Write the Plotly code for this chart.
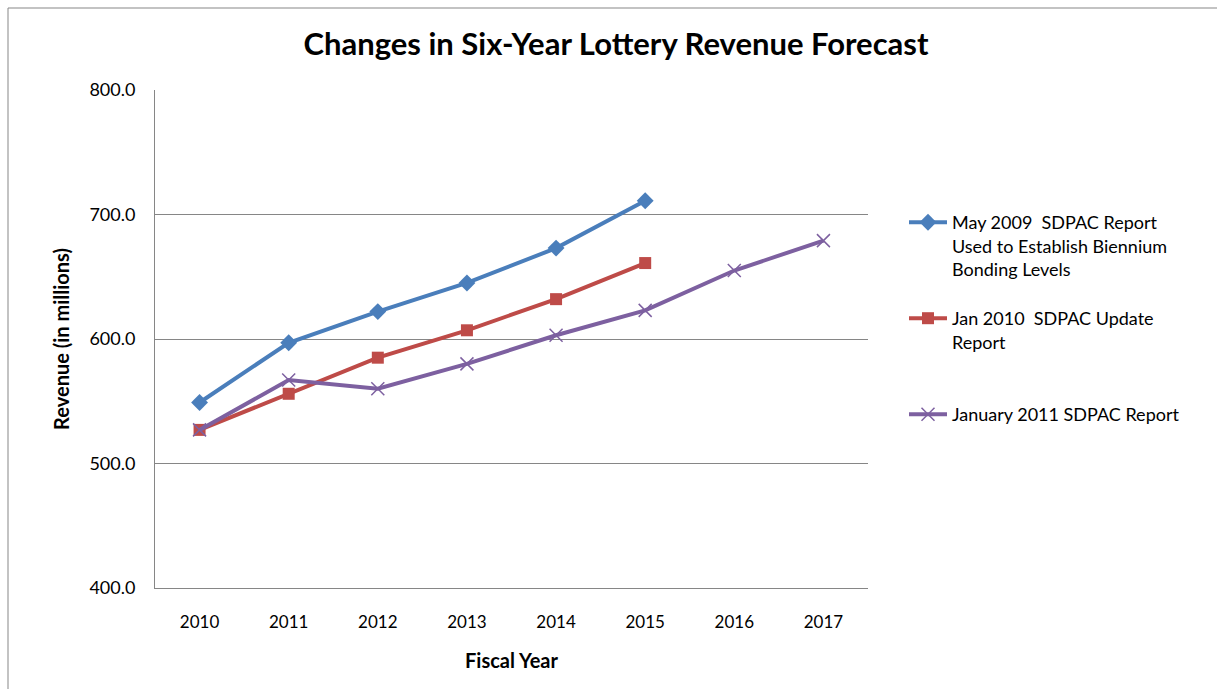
import plotly.graph_objects as go

# Fiscal years on the category axis
years = ["2010", "2011", "2012", "2013", "2014", "2015", "2016", "2017"]

# Forecast revenue (in millions) from each SDPAC report
may_2009 = [549, 597, 622, 645, 673, 711]
jan_2010 = [527, 556, 585, 607, 632, 661]
jan_2011 = [527, 567, 560, 580, 603, 623, 655, 679]

series_names = [
    "May 2009  SDPAC Report<br>Used to Establish Biennium<br>Bonding Levels",
    "Jan 2010  SDPAC Update<br>Report",
    "January 2011 SDPAC Report",
]

W, H = 1217, 689
L, R, T, B = 155, 868, 90, 588
FONT = "Lato, 'Open Sans', sans-serif"


def px_x(p):
    return (p - L) / (R - L)


def px_y(p):
    return (B - p) / (B - T)


fig = go.Figure()

fig.add_trace(go.Scatter(
    x=years[:len(may_2009)], y=may_2009, name=series_names[0], mode="lines+markers",
    line=dict(color="#4A7EBB", width=4),
    marker=dict(symbol="diamond", size=13, color="#4A7EBB"),
    legend="legend",
))
fig.add_trace(go.Scatter(
    x=years[:len(jan_2010)], y=jan_2010, name=series_names[1], mode="lines+markers",
    line=dict(color="#BE4B48", width=4),
    marker=dict(symbol="square", size=12, color="#BE4B48"),
    legend="legend2",
))
fig.add_trace(go.Scatter(
    x=years[:len(jan_2011)], y=jan_2011, name=series_names[2], mode="lines+markers",
    line=dict(color="#7D60A0", width=4),
    marker=dict(symbol="x-thin", size=13, color="#7D60A0",
                line=dict(color="#7D60A0", width=1.5)),
    legend="legend3",
))

legend_common = dict(
    xanchor="left", yanchor="top", valign="top",
    font=dict(family=FONT, size=18, color="#000000"),
    bgcolor="rgba(0,0,0,0)", borderwidth=0,
    itemwidth=38,
)

fig.update_layout(
    width=W, height=H,
    margin=dict(l=L, r=W - R, t=T, b=H - B),
    paper_bgcolor="white", plot_bgcolor="white",
    font=dict(family=FONT, color="#000000"),
    title=dict(
        text="<b>Changes in Six-Year Lottery Revenue Forecast</b>",
        font=dict(family=FONT, size=31, color="#000000"),
        x=616 / W, xanchor="center", y=1 - 44 / H, yanchor="middle",
    ),
    xaxis=dict(
        type="category", range=[-0.5, 7.5],
        showgrid=False, showline=True, linecolor="#868686", linewidth=1,
        ticks="", ticklabelstandoff=19, tickfont=dict(family=FONT, size=17),
        title=dict(text="<b>Fiscal Year</b>", font=dict(family=FONT, size=20), standoff=22),
        fixedrange=True,
    ),
    yaxis=dict(
        range=[400, 800], dtick=100, tickformat=".1f",
        showgrid=True, gridcolor="#868686", gridwidth=1,
        showline=True, linecolor="#868686", linewidth=1,
        ticks="", ticklabelstandoff=15, tickfont=dict(family=FONT, size=18),
        title=dict(text="<b>Revenue (in millions)</b>", font=dict(family=FONT, size=20), standoff=14),
        zeroline=False,
    ),
    legend=dict(x=px_x(904), y=px_y(204), **legend_common),
    legend2=dict(x=px_x(904), y=px_y(300), **legend_common),
    legend3=dict(x=px_x(904), y=px_y(396), **legend_common),
    showlegend=True,
    shapes=[
        dict(type="rect", xref="paper", yref="paper",
             x0=px_x(8), x1=px_x(1240), y0=px_y(720), y1=px_y(8),
             line=dict(color="#878787", width=1), fillcolor="rgba(0,0,0,0)", layer="below"),
    ],
)

fig.write_html("out.html")
